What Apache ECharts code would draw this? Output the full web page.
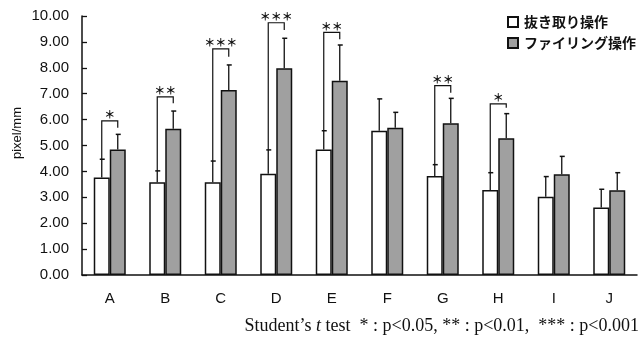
<!DOCTYPE html>
<html>
<head>
<meta charset="utf-8">
<script src="https://cdn.jsdelivr.net/npm/echarts@6/dist/echarts.min.js"></script>
<style>
  html, body { margin: 0; padding: 0; background: #fff; }
  #chart { width: 641px; height: 345px; }
</style>
</head>
<body>
<div id="chart"></div>
<script>
var categories = ['A', 'B', 'C', 'D', 'E', 'F', 'G', 'H', 'I', 'J'];
var seriesNames = ['抜き取り操作', 'ファイリング操作'];

// means and SDs (pixel/mm)
var extractMean = [3.76, 3.58, 3.58, 3.91, 4.85, 5.57, 3.82, 3.28, 3.02, 2.61];
var extractSd   = [0.71, 0.44, 0.82, 0.92, 0.72, 1.23, 0.44, 0.67, 0.78, 0.70];
var filingMean  = [4.85, 5.65, 7.14, 7.98, 7.50, 5.69, 5.86, 5.28, 3.89, 3.27];
var filingSd    = [0.58, 0.68, 0.97, 1.16, 1.38, 0.59, 0.96, 0.95, 0.69, 0.68];

// significance brackets
var sigCats   = ['A', 'B', 'C', 'D', 'E', 'G', 'H'];
var sigStars  = ['*', '**', '***', '***', '**', '**', '*'];
var sigLevel  = [5.95, 6.88, 8.73, 9.74, 9.37, 7.31, 6.61];
var sigDropTo = [5.69, 6.63, 8.43, 9.46, 9.10, 7.04, 6.46];

var yTicks = [0, 1, 2, 3, 4, 5, 6, 7, 8, 9, 10];

var barW = 16;

function errorSeries(means, sds, offset) {
    return {
        type: 'custom',
        silent: true,
        z: 3,
        data: categories.map(function (c, i) { return [i, means[i], means[i] + sds[i]]; }),
        renderItem: function (params, api) {
            var p0 = api.coord([api.value(0), api.value(1)]);
            var p1 = api.coord([api.value(0), api.value(2)]);
            var x = p0[0] + offset;
            return {
                type: 'group',
                children: [
                    { type: 'line', shape: { x1: x, y1: p0[1], x2: x, y2: p1[1] }, style: { stroke: '#111', lineWidth: 1.3 } },
                    { type: 'line', shape: { x1: x - 2, y1: p1[1], x2: x + 3, y2: p1[1] }, style: { stroke: '#111', lineWidth: 1.5 } }
                ]
            };
        }
    };
}

var bracketSeries = {
    type: 'custom',
    silent: true,
    z: 4,
    data: sigCats.map(function (c, k) {
        var i = categories.indexOf(c);
        return [i, extractMean[i] + extractSd[i], sigLevel[k], sigDropTo[k], k];
    }),
    renderItem: function (params, api) {
        var i = api.value(0);
        var pStart = api.coord([i, api.value(1)]);
        var pLevel = api.coord([i, api.value(2)]);
        var pDrop = api.coord([i, api.value(3)]);
        var xl = pStart[0] - barW / 2;
        var xr = pStart[0] + barW / 2;
        var stars = sigStars[api.value(4)].replace(/\*/g, '＊');
        return {
            type: 'group',
            children: [
                { type: 'polyline', shape: { points: [[xl, pStart[1]], [xl, pLevel[1]], [xr, pLevel[1]], [xr, pDrop[1]]] },
                  style: { stroke: '#111', lineWidth: 1.2, fill: null } },
                { type: 'text', x: (xl + xr) / 2, y: pLevel[1] - 6,
                  style: { text: stars, fill: '#111', font: 'bold 11px "Noto Sans CJK JP"', align: 'center', verticalAlign: 'middle' } }
            ]
        };
    }
};

var chart = echarts.init(document.getElementById('chart'), null, { renderer: 'canvas' });

chart.setOption({
    animation: false,
    backgroundColor: '#fff',
    grid: { left: 82, right: 4, top: 16, bottom: 70 },
    legend: {
        orient: 'vertical',
        right: 0,
        top: 10,
        icon: 'rect',
        itemWidth: 10,
        itemHeight: 10,
        itemGap: 7,
        data: seriesNames,
        textStyle: { fontFamily: '"Noto Sans CJK JP"', fontWeight: 'bold', fontSize: 14, color: '#111', padding: [0, 0, 0, 1] }
    },
    xAxis: {
        type: 'category',
        data: categories,
        axisLine: { lineStyle: { color: '#111', width: 1.5 } },
        axisTick: { inside: true, length: 4, lineStyle: { color: '#111', width: 1.3 } },
        axisLabel: { color: '#111', fontFamily: 'Liberation Sans', fontSize: 15, margin: 16 }
    },
    yAxis: {
        type: 'value',
        min: yTicks[0],
        max: yTicks[yTicks.length - 1],
        interval: 1,
        axisLine: { show: true, lineStyle: { color: '#111', width: 1.5 } },
        axisTick: { show: true, inside: true, length: 5, lineStyle: { color: '#111', width: 1.3 } },
        splitLine: { show: false },
        axisLabel: {
            color: '#111', fontFamily: 'Liberation Sans', fontSize: 15, margin: 13,
            formatter: function (v) { return v.toFixed(2); }
        }
    },
    series: [
        {
            name: seriesNames[0],
            type: 'bar',
            barWidth: barW,
            barGap: '0%',
            data: extractMean,
            itemStyle: { color: '#fff', borderColor: '#111', borderWidth: 1.5 }
        },
        {
            name: seriesNames[1],
            type: 'bar',
            barWidth: barW,
            barGap: '0%',
            data: filingMean,
            itemStyle: { color: '#a0a0a0', borderColor: '#111', borderWidth: 1.5 }
        },
        errorSeries(extractMean, extractSd, -barW / 2),
        errorSeries(filingMean, filingSd, barW / 2),
        bracketSeries
    ],
    graphic: [{
        type: 'text',
        x: 17,
        y: 133,
        rotation: Math.PI / 2,
        style: {
            text: 'pixel/mm',
            fill: '#111',
            font: '13px "Liberation Sans"',
            align: 'center',
            verticalAlign: 'middle'
        }
    }, {
        type: 'text',
        right: 2,
        top: 317,
        style: {
            text: 'Student’s {i|t} test  * : p<0.05, ** : p<0.01,  *** : p<0.001',
            fill: '#111',
            font: '18px "Liberation Serif"',
            rich: { i: { fontStyle: 'italic', fontFamily: 'Liberation Serif', fontSize: 18, fill: '#111' } }
        }
    }]
});
</script>
</body>
</html>
